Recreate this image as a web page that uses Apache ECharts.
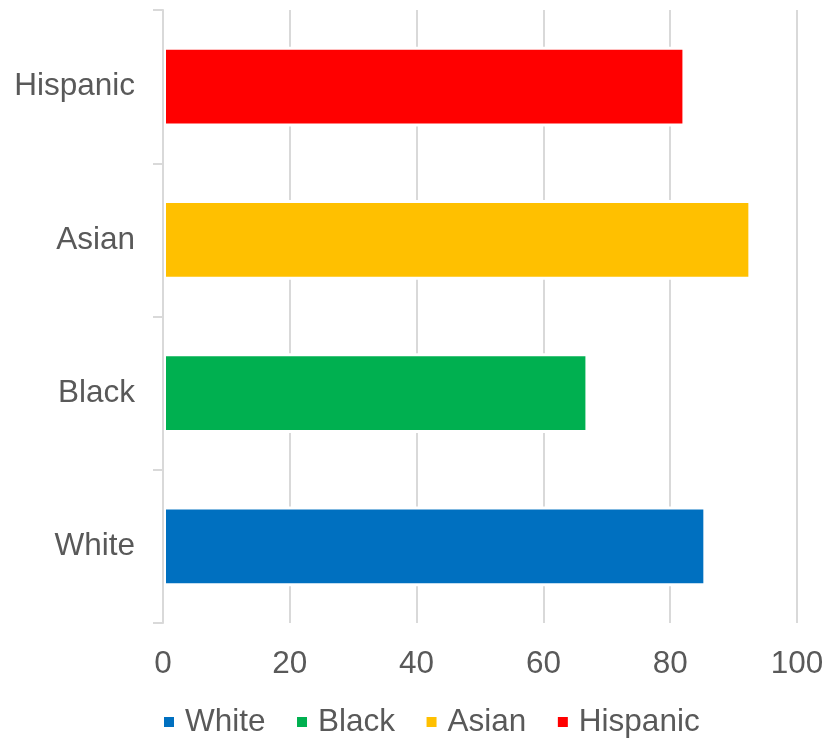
<!DOCTYPE html>
<html>
<head>
<meta charset="utf-8">
<script src="https://cdn.jsdelivr.net/npm/echarts@6/dist/echarts.min.js"></script>
<style>html,body{margin:0;padding:0;background:#fff}#c{width:829px;height:740px}</style>
</head>
<body>
<div id="c"></div>
<script>
const categories = ['White', 'Black', 'Asian', 'Hispanic'];
const values = [85.7, 67.1, 92.8, 82.4];
const colors = ['#0070C0', '#00B050', '#FFC000', '#FF0000'];
const xTicks = [0, 20, 40, 60, 80, 100];

const chart = echarts.init(document.getElementById('c'));
const series = categories.map((name, i) => ({
  name: name,
  type: 'bar',
  stack: 'all',
  barCategoryGap: '48%',
  itemStyle: { color: colors[i], borderColor: '#ffffff', borderWidth: 3 },
  data: categories.map((c, j) => (j === i ? values[i] : null))
}));

chart.setOption({
  animation: false,
  textStyle: { fontFamily: 'Liberation Sans, Arial, sans-serif' },
  grid: { left: 163, right: 32, top: 10, bottom: 117 },
  legend: {
    data: categories,
    left: 162,
    top: 706,
    padding: 0,
    itemWidth: 12,
    itemHeight: 12,
    itemGap: 29.5,
    icon: 'rect',
    textStyle: { fontSize: 31.5, color: '#595959', padding: [0, 0, 0, 5], fontFamily: 'Liberation Sans, Arial, sans-serif' }
  },
  xAxis: {
    type: 'value',
    min: xTicks[0],
    max: xTicks[xTicks.length - 1],
    interval: 20,
    axisLine: { show: false },
    axisTick: { show: false },
    splitLine: { show: true, lineStyle: { color: '#D9D9D9', width: 2 } },
    axisLabel: { fontSize: 31.5, color: '#595959', margin: 25 }
  },
  yAxis: {
    type: 'category',
    data: categories,
    z: 5,
    axisLine: { show: true, lineStyle: { color: '#D9D9D9', width: 2 } },
    axisTick: { show: true, length: 10, lineStyle: { color: '#D9D9D9', width: 2 } },
    axisLabel: { fontSize: 31.5, color: '#595959', margin: 28, padding: [3, 0, 0, 0] }
  },
  series: series
});
</script>
</body>
</html>
